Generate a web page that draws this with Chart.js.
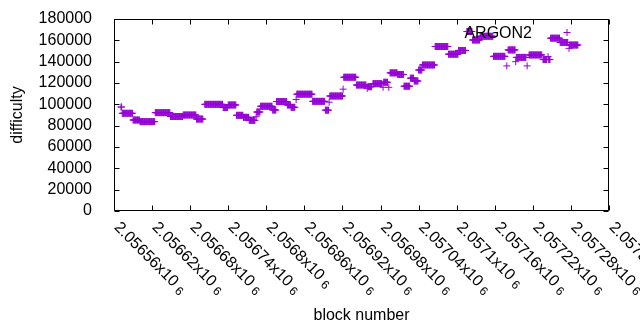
<!DOCTYPE html>
<html><head><meta charset="utf-8">
<script src="https://cdn.jsdelivr.net/npm/chart.js@4"></script>
<style>html,body{margin:0;padding:0;background:#fff;} canvas{display:block;}</style>
</head><body>
<canvas id="c" width="640" height="330" style="width:640px;height:330px"></canvas>
<script>
const seriesName = 'ARGON2';
const xTitle = 'block number';
const yTitle = 'difficulty';
const xMin = 2056560, xMax = 2057340, xStep = 60;
const yMin = 0, yMax = 180000, yStep = 20000;

// runs of consecutive blocks sharing the same difficulty
const runFirstBlock = [2056571,2056573,2056590,2056601,2056625,2056649,2056669,2056690,2056703,2056732,
  2056740,2056753,2056764,2056773,2056784,2056785,2056791,2056810,2056816,2056833,
  2056839,2056847,2056848,2056873,2056893,2056899,2056900,2056921,2056922,2056942,
  2056959,2056960,2056968,2056984,2056985,2056993,2056995,2057007,2057017,2057027,
  2057033,2057040,2057046,2057066,2057087,2057103,2057116,2057125,2057137,2057158,
  2057179,2057181,2057193,2057194,2057211,2057214,2057236,2057244,2057245,2057248,
  2057263,2057277,2057278];
const runLastBlock = [2056572,2056589,2056600,2056624,2056648,2056668,2056689,2056700,2056731,2056739,
  2056752,2056763,2056772,2056782,2056784,2056790,2056809,2056815,2056832,2056838,
  2056845,2056847,2056872,2056892,2056898,2056899,2056920,2056921,2056941,2056957,
  2056959,2056966,2056982,2056984,2056991,2056993,2057006,2057016,2057026,2057032,
  2057039,2057045,2057065,2057086,2057102,2057114,2057124,2057136,2057157,2057176,
  2057179,2057192,2057193,2057209,2057211,2057234,2057242,2057244,2057247,2057262,
  2057275,2057277,2057291];
const runDifficulty = [97500,91600,85300,83800,92200,88600,90000,86200,100000,97000,
  99400,89700,87800,85000,88400,92800,98200,94700,102600,99400,
  97200,104500,109500,102800,94500,102000,107800,114200,125400,118100,
  115000,116500,119400,116000,120700,116000,129500,128000,117000,124500,
  121900,132200,136900,154200,147000,150500,168300,160300,163800,145000,
  136000,151000,140000,144000,136000,146300,142000,144700,142000,162000,
  158000,152500,155600];

const COLOR = '#9400d3';
const FONT = '"Liberation Sans", Arial, sans-serif';

const points = [];
runFirstBlock.forEach((b0, i) => {
  for (let b = b0; b <= runLastBlock[i]; b++) points.push({x: b, y: runDifficulty[i]});
});

function fmtX(v){ return String(parseFloat((v/1e6).toFixed(6))); }

const frame = {
  id: 'frame',
  afterDatasetsDraw(chart){
    const {ctx, chartArea: a, scales: {x, y}} = chart;
    ctx.save();
    ctx.strokeStyle = '#000'; ctx.lineWidth = 1;
    const L = Math.round(a.left)+0.5, R = Math.round(a.right)-0.5, T = Math.round(a.top)+0.5, B = Math.round(a.bottom)-0.5;
    const tl = 5;
    ctx.beginPath();
    ctx.rect(L, T, R-L, B-T);
    x.ticks.forEach(t => {
      const px = Math.round(x.getPixelForValue(t.value)) + 0.5;
      ctx.moveTo(px, B); ctx.lineTo(px, B-tl);
      ctx.moveTo(px, T); ctx.lineTo(px, T+tl);
    });
    y.ticks.forEach(t => {
      const py = Math.round(y.getPixelForValue(t.value)) + 0.5;
      ctx.moveTo(L, py); ctx.lineTo(L+tl, py);
      ctx.moveTo(R, py); ctx.lineTo(R-tl, py);
    });
    ctx.stroke();

    // rotated x tick labels
    ctx.fillStyle = '#000';
    x.ticks.forEach(t => {
      const px = x.getPixelForValue(t.value);
      ctx.save();
      ctx.translate(px + 2.5, a.bottom + 14);
      ctx.rotate(Math.PI/4);
      ctx.textAlign = 'left'; ctx.textBaseline = 'middle';
      ctx.font = '16px ' + FONT;
      const main = fmtX(t.value) + 'x10';
      ctx.fillText(main, 0, 0);
      const w = ctx.measureText(main).width;
      ctx.font = '12px ' + FONT;
      ctx.fillText('6', w + 4, 3);
      ctx.restore();
    });

    // axis titles
    ctx.font = '16px ' + FONT;
    ctx.textAlign = 'center'; ctx.textBaseline = 'alphabetic';
    ctx.fillText(xTitle, (a.left + a.right)/2, 320);
    ctx.save();
    ctx.translate(22, (a.top + a.bottom)/2);
    ctx.rotate(-Math.PI/2);
    ctx.fillText(yTitle, 0, 0);
    ctx.restore();

    // key
    ctx.textAlign = 'right'; ctx.textBaseline = 'alphabetic';
    ctx.fillText(seriesName, 532, 37.5);
    ctx.strokeStyle = COLOR;
    ctx.beginPath();
    ctx.moveTo(563.5, 32.5); ctx.lineTo(570.5, 32.5);
    ctx.moveTo(567, 29); ctx.lineTo(567, 36);
    ctx.stroke();
    ctx.restore();
  }
};

new Chart(document.getElementById('c'), {
  type: 'scatter',
  data: { datasets: [{
    label: seriesName,
    data: points,
    pointStyle: 'cross',
    pointRadius: 3.5,
    pointHoverRadius: 3.5,
    borderWidth: 1,
    borderColor: COLOR,
    backgroundColor: COLOR,
    showLine: false
  }]},
  options: {
    responsive: false,
    maintainAspectRatio: false,
    animation: false,
    devicePixelRatio: 1,
    layout: { padding: { left: 0, right: 31, top: 19, bottom: 0 } },
    plugins: { legend: { display: false }, tooltip: { enabled: false } },
    scales: {
      x: {
        type: 'linear', min: xMin, max: xMax,
        grid: { display: false }, border: { display: false },
        ticks: { display: false, stepSize: xStep, autoSkip: false },
        afterFit(s){ s.height = 119; s.paddingLeft = 0; s.paddingRight = 0; }
      },
      y: {
        type: 'linear', min: yMin, max: yMax,
        grid: { display: false }, border: { display: false },
        ticks: { stepSize: yStep, autoSkip: false, padding: 14, color: '#000', font: { family: FONT, size: 16 },
                 callback: v => String(v) },
        afterFit(s){ s.width = 114; s.paddingTop = 0; s.paddingBottom = 0; }
      }
    }
  },
  plugins: [frame]
});
</script>
</body></html>
